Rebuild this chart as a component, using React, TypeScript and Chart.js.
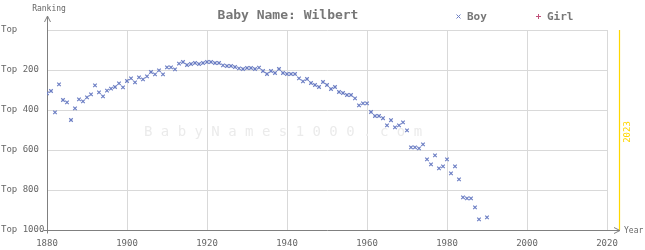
import React, { useEffect, useRef } from "react";
import { Chart, registerables } from "chart.js";

Chart.register(...registerables);

const years: number[] = [
  1880, 1881, 1882, 1883, 1884, 1885, 1886, 1887, 1888, 1889,
  1890, 1891, 1892, 1893, 1894, 1895, 1896, 1897, 1898, 1899,
  1900, 1901, 1902, 1903, 1904, 1905, 1906, 1907, 1908, 1909,
  1910, 1911, 1912, 1913, 1914, 1915, 1916, 1917, 1918, 1919,
  1920, 1921, 1922, 1923, 1924, 1925, 1926, 1927, 1928, 1929,
  1930, 1931, 1932, 1933, 1934, 1935, 1936, 1937, 1938, 1939,
  1940, 1941, 1942, 1943, 1944, 1945, 1946, 1947, 1948, 1949,
  1950, 1951, 1952, 1953, 1954, 1955, 1956, 1957, 1958, 1959,
  1960, 1961, 1962, 1963, 1964, 1965, 1966, 1967, 1968, 1969,
  1970, 1971, 1972, 1973, 1974, 1975, 1976, 1977, 1978, 1979,
  1980, 1981, 1982, 1983, 1984, 1985, 1986, 1987, 1988, 1990,
];

const boyRanks: number[] = [
  317, 305, 412, 272, 350, 362, 450, 392, 347, 357,
  337, 322, 277, 312, 332, 303, 293, 285, 267, 287,
  255, 242, 262, 237, 247, 232, 210, 222, 202, 222,
  187, 187, 197, 168, 160, 175, 170, 165, 170, 165,
  160, 160, 165, 165, 177, 180, 180, 185, 192, 195,
  190, 190, 195, 188, 205, 220, 205, 215, 195, 215,
  220, 220, 220, 242, 257, 245, 265, 275, 285, 260,
  275, 295, 285, 310, 315, 325, 325, 342, 377, 367,
  367, 410, 430, 430, 441, 477, 451, 487, 477, 462,
  502, 587, 587, 592, 572, 647, 672, 627, 692, 682,
  647, 717, 682, 747, 837, 842, 842, 887, 947, 937,
];

const girlYears: number[] = [];
const girlRanks: number[] = [];

const yTicks: number[] = [0, 200, 400, 600, 800, 1000];
const xTicks: number[] = [1880, 1900, 1920, 1940, 1960, 1980, 2000, 2020];
const currentYear = 2023;
const titleText = "Baby Name: Wilbert";
const watermark = "B a b y N a m e s 1 0 0 0 . c o m";

const MONO = "'DejaVu Sans Mono', 'Liberation Mono', monospace";
const BOY_COLOR = "#6d7fc4";
const GIRL_COLOR = "#c0507a";

const decor = {
  id: "decor",
  beforeDatasetsDraw(chart: any) {
    const { ctx, chartArea } = chart;
    ctx.save();
    ctx.font = `14px ${MONO}`;
    ctx.fillStyle = "#ebebeb";
    ctx.textAlign = "center";
    ctx.textBaseline = "middle";
    ctx.fillText(watermark, (chartArea.left + chartArea.right) / 2 - 44, 132);
    ctx.restore();
  },
  afterDraw(chart: any) {
    const { ctx, chartArea, scales } = chart;
    const x = scales.x;
    ctx.save();
    // title
    ctx.font = `bold 13px ${MONO}`;
    ctx.fillStyle = "#777";
    ctx.textAlign = "center";
    ctx.textBaseline = "middle";
    ctx.fillText(titleText, 288, 16);

    // legend
    ctx.font = `bold 11px ${MONO}`;
    ctx.textAlign = "left";
    ctx.fillStyle = "#777";
    ctx.fillText("Boy", 467, 17);
    ctx.fillText("Girl", 547, 17);
    ctx.strokeStyle = BOY_COLOR;
    ctx.lineWidth = 1;
    ctx.beginPath();
    ctx.moveTo(456.5, 14.5); ctx.lineTo(460.5, 18.5);
    ctx.moveTo(460.5, 14.5); ctx.lineTo(456.5, 18.5);
    ctx.stroke();
    ctx.strokeStyle = GIRL_COLOR;
    ctx.beginPath();
    ctx.moveTo(538.5, 14); ctx.lineTo(538.5, 19);
    ctx.moveTo(536, 16.5); ctx.lineTo(541, 16.5);
    ctx.stroke();

    // axis arrows
    ctx.strokeStyle = "#808080";
    ctx.beginPath();
    const ax = Math.round(chartArea.left) + 0.5;
    ctx.moveTo(ax, chartArea.top); ctx.lineTo(ax, 16);
    ctx.moveTo(ax - 3, 22); ctx.lineTo(ax, 16); ctx.lineTo(ax + 3, 22);
    const ay = Math.round(chartArea.bottom) + 0.5;
    ctx.moveTo(chartArea.right, ay); ctx.lineTo(620, ay);
    ctx.moveTo(614, ay - 3); ctx.lineTo(620, ay); ctx.lineTo(614, ay + 3);
    // small corner ticks
    ctx.moveTo(ax - 4, ay); ctx.lineTo(ax, ay);
    ctx.moveTo(ax, ay); ctx.lineTo(ax, ay + 3);
    ctx.stroke();

    ctx.font = `8px ${MONO}`;
    ctx.fillStyle = "#666";
    ctx.textAlign = "center";
    ctx.fillText("Ranking", 49, 9);
    ctx.textAlign = "left";
    ctx.fillText("Year", 624, 231);

    // current year line
    const cx = Math.round(x.getPixelForValue(currentYear)) + 0.5;
    ctx.strokeStyle = "#ffd700";
    ctx.lineWidth = 1.2;
    ctx.beginPath();
    ctx.moveTo(cx, chartArea.top);
    ctx.lineTo(cx, chartArea.bottom);
    ctx.stroke();
    ctx.translate(cx + 8, 132);
    ctx.rotate(-Math.PI / 2);
    ctx.font = `9px ${MONO}`;
    ctx.fillStyle = "#ffd700";
    ctx.textAlign = "center";
    ctx.textBaseline = "middle";
    ctx.fillText(String(currentYear), 0, 0);
    ctx.restore();
  },
};

export default function App() {
  const ref = useRef<HTMLCanvasElement>(null);
  useEffect(() => {
    document.body.style.margin = "0";
    const canvas = ref.current!;
    const chart = new Chart(canvas, {
      type: "scatter",
      data: {
        datasets: [
          {
            label: "Boy",
            data: years.map((y, i) => ({ x: y, y: boyRanks[i] })),
            pointStyle: "crossRot",
            radius: 2.5,
            borderColor: BOY_COLOR,
            backgroundColor: BOY_COLOR,
            borderWidth: 1.2,
          },
          {
            label: "Girl",
            data: girlYears.map((y, i) => ({ x: y, y: girlRanks[i] })),
            pointStyle: "cross",
            radius: 2.5,
            borderColor: GIRL_COLOR,
            backgroundColor: GIRL_COLOR,
            borderWidth: 1,
          },
        ],
      },
      options: {
        responsive: false,
        animation: false,
        layout: { padding: { left: 1, top: 30, right: 38, bottom: 0 } },
        plugins: {
          legend: { display: false },
          title: { display: false },
          tooltip: { enabled: false },
        },
        scales: {
          x: {
            type: "linear",
            min: 1880,
            max: 2020,
            afterBuildTicks: (s: any) => {
              s.ticks = xTicks.map((v) => ({ value: v }));
            },
            afterFit: (s: any) => {
              s.height = 20;
            },
            grid: { color: "#d9d9d9", tickLength: 0, lineWidth: 1 },
            border: { color: "#808080", width: 1 },
            ticks: {
              font: { family: MONO, size: 9 },
              color: "#666",
              padding: 8,
              maxRotation: 0,
              autoSkip: false,
              callback: (v: any) => String(v),
            },
          },
          y: {
            type: "linear",
            min: 0,
            max: 1000,
            reverse: true,
            afterBuildTicks: (s: any) => {
              s.ticks = yTicks.map((v) => ({ value: v }));
            },
            afterFit: (s: any) => {
              s.width = 46;
            },
            grid: { color: "#d9d9d9", tickLength: 0, lineWidth: 1 },
            border: { color: "#808080", width: 1 },
            ticks: {
              font: { family: MONO, size: 9 },
              color: "#666",
              crossAlign: "far",
              autoSkip: false,
              callback: (v: any) => (v === 0 ? "Top" : "Top " + v),
            },
          },
        },
      },
      plugins: [decor],
    });
    return () => chart.destroy();
  }, []);
  return <canvas ref={ref} width={645} height={250} style={{ display: "block" }} />;
}
